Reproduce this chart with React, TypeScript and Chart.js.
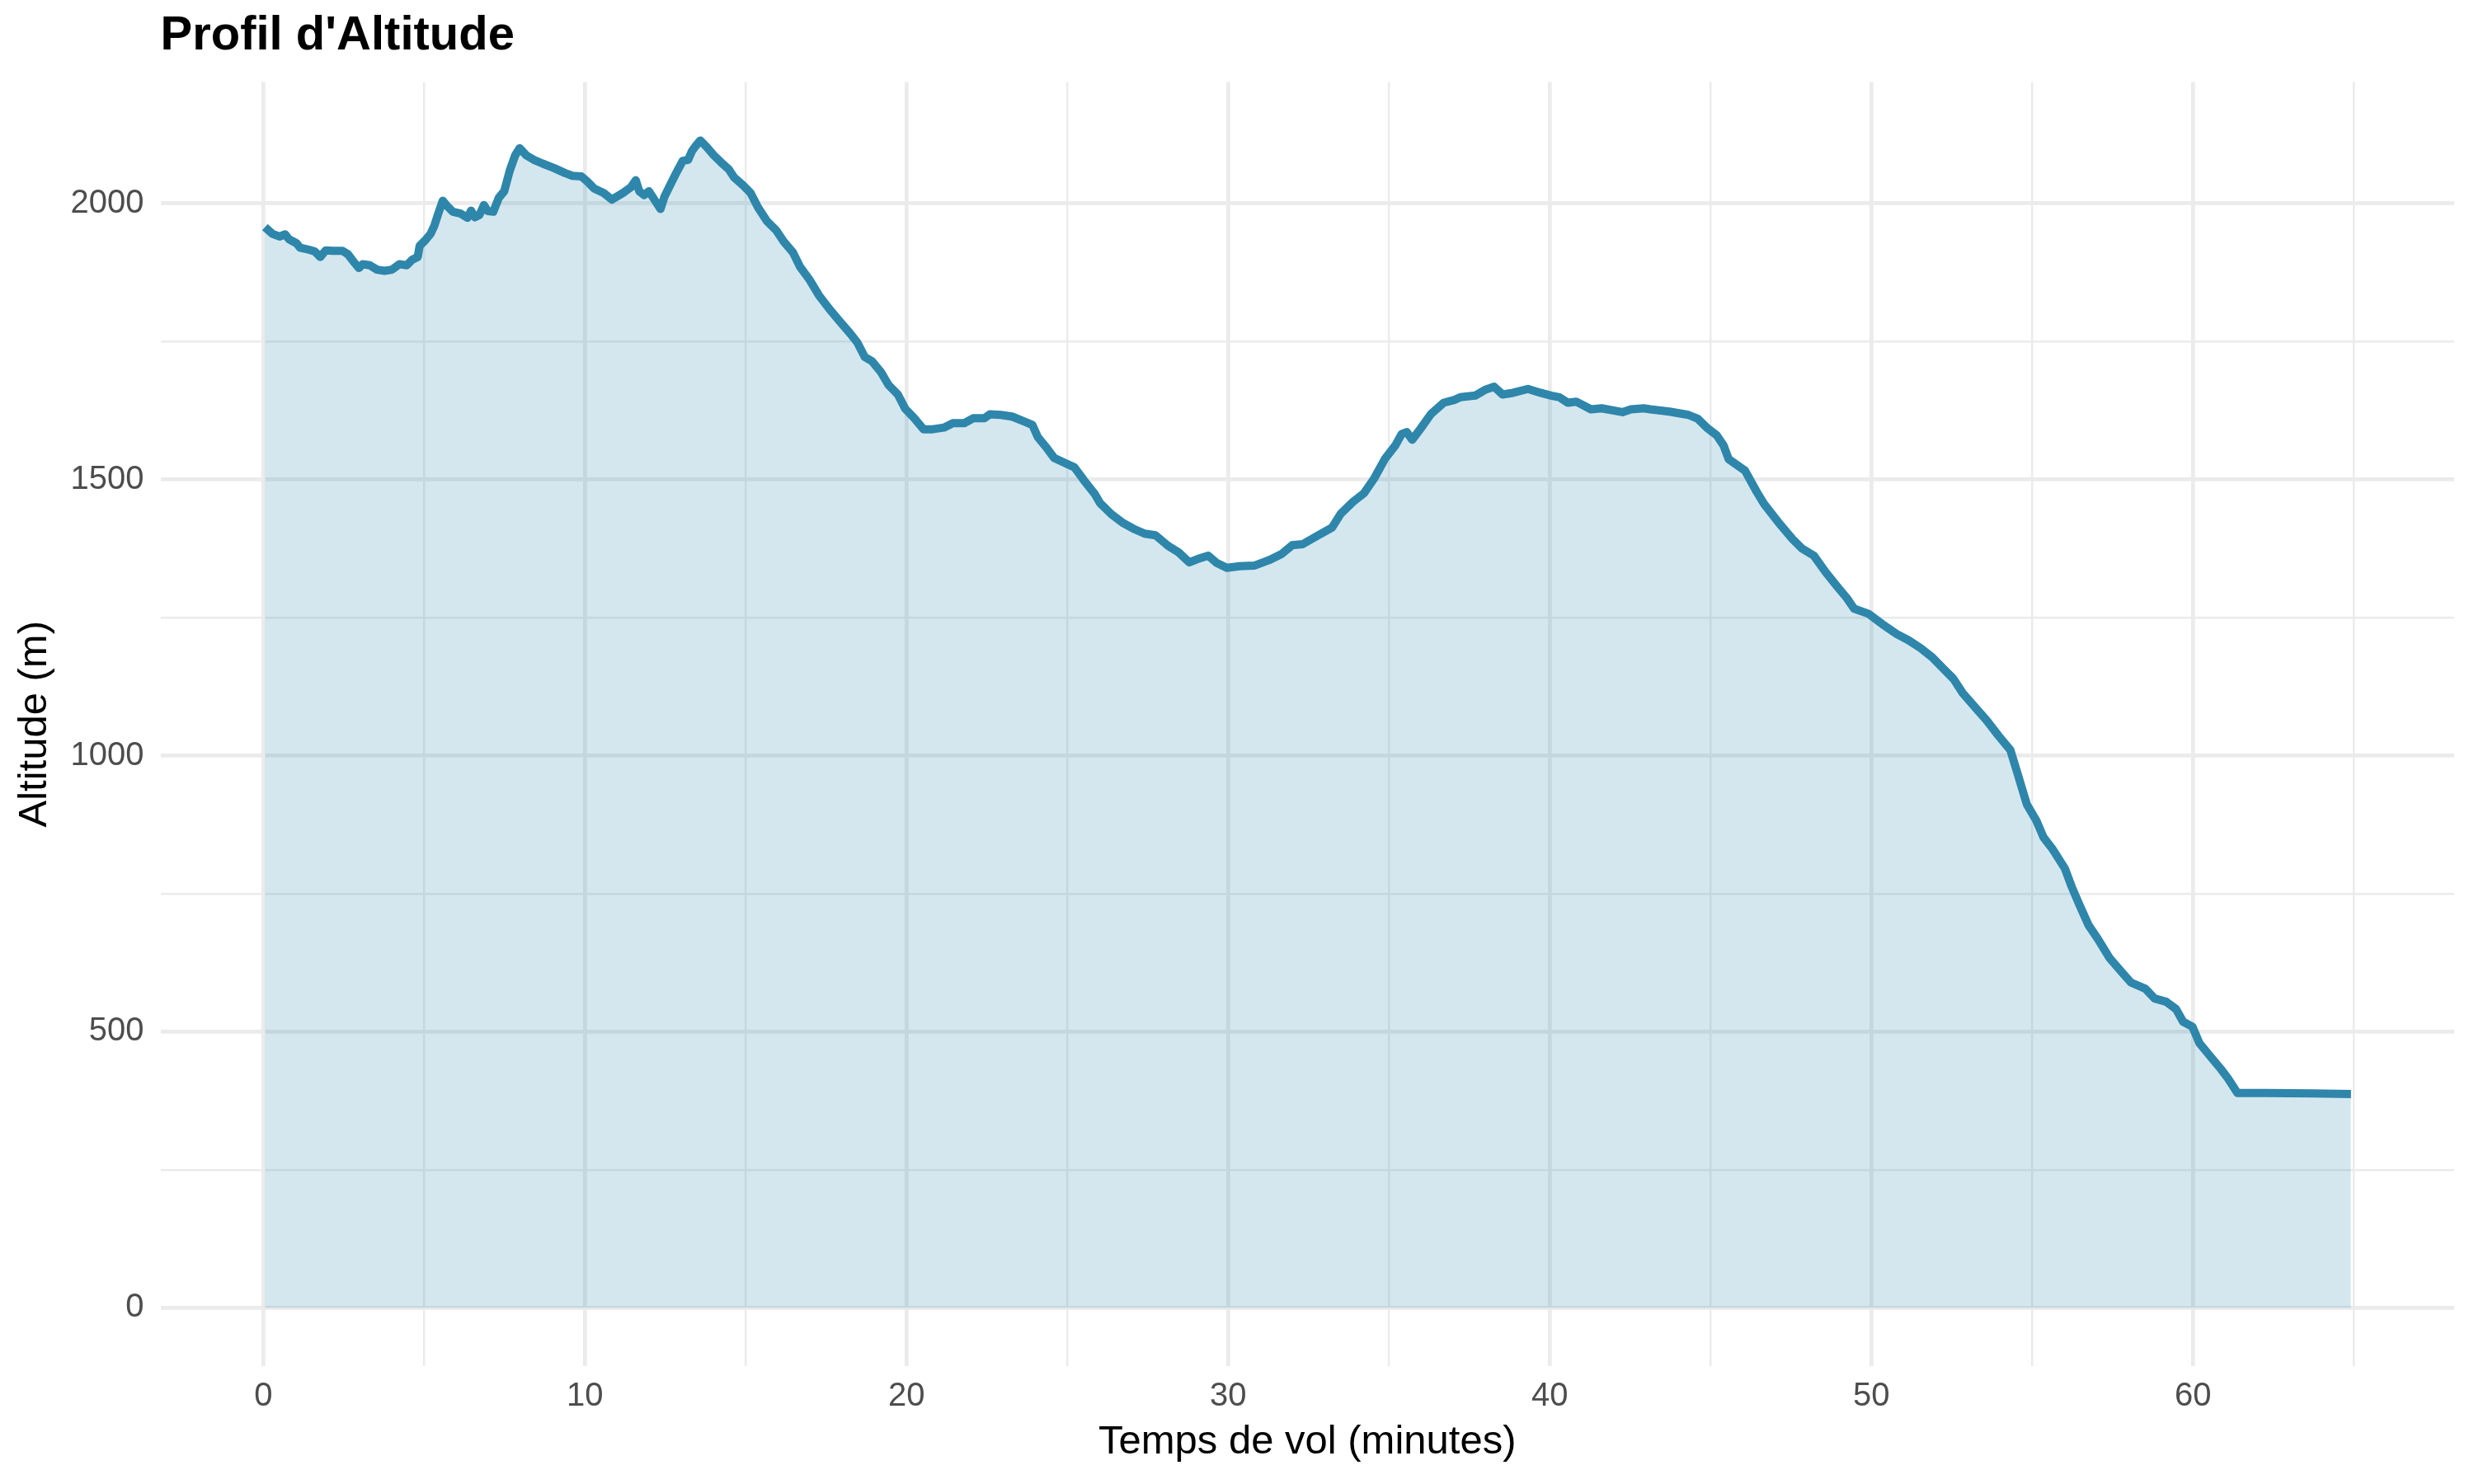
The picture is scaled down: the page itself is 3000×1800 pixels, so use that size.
import React, { useEffect, useRef } from "react";
import { Chart, registerables } from "chart.js";

Chart.register(...registerables);

// Flight time (minutes)
const timeMinutes: number[] = [
  0.05, 0.28, 0.51, 0.68, 0.8, 1.03, 1.14, 1.43, 1.6, 1.77, 1.94, 2.17, 2.46, 2.63, 2.8, 2.97,
  3.09, 3.31, 3.54, 3.77, 4.0, 4.23, 4.46, 4.63, 4.8, 4.86, 5.03, 5.2, 5.32, 5.43, 5.58, 5.72,
  5.89, 6.12, 6.35, 6.46, 6.58, 6.72, 6.86, 6.98, 7.15, 7.32, 7.49, 7.66, 7.83, 7.97, 8.18, 8.41,
  8.69, 9.04, 9.38, 9.61, 9.89, 10.07, 10.29, 10.58, 10.84, 10.98, 11.21, 11.44, 11.58, 11.69,
  11.84, 11.99, 12.18, 12.35, 12.47, 12.64, 12.81, 13.04, 13.21, 13.33, 13.44, 13.59, 13.79,
  14.01, 14.24, 14.47, 14.64, 14.93, 15.15, 15.38, 15.66, 15.95, 16.18, 16.47, 16.69, 16.98,
  17.27, 17.61, 17.9, 18.24, 18.47, 18.7, 18.93, 19.21, 19.44, 19.73, 19.96, 20.24, 20.53,
  20.81, 21.16, 21.44, 21.79, 22.07, 22.42, 22.59, 22.93, 23.28, 23.62, 23.91, 24.08, 24.36,
  24.59, 24.88, 25.22, 25.51, 25.85, 26.02, 26.37, 26.71, 27.05, 27.4, 27.74, 28.13, 28.46,
  28.79, 29.05, 29.38, 29.64, 29.96, 30.36, 30.81, 31.27, 31.66, 31.99, 32.32, 32.71, 33.23,
  33.5, 33.89, 34.22, 34.54, 34.87, 35.2, 35.39, 35.55, 35.72, 35.98, 36.31, 36.7, 37.03,
  37.22, 37.68, 38.01, 38.27, 38.53, 38.86, 39.32, 39.71, 40.04, 40.3, 40.56, 40.82, 41.28,
  41.61, 42.26, 42.52, 42.92, 43.13, 43.72, 44.31, 44.6, 44.9, 45.19, 45.4, 45.56, 46.07,
  46.44, 46.66, 47.1, 47.55, 47.84, 48.21, 48.58, 48.94, 49.24, 49.46, 49.9, 50.34, 50.79,
  51.15, 51.52, 51.89, 52.26, 52.55, 52.84, 53.29, 53.58, 53.95, 54.32, 54.54, 54.83, 55.13,
  55.35, 55.64, 56.01, 56.23, 56.45, 56.75, 57.04, 57.41, 57.78, 58.07, 58.51, 58.81, 59.17,
  59.47, 59.69, 59.98, 60.2, 60.57, 60.87, 61.09, 61.38, 62.27, 63.74, 64.91,
];

// Altitude (m)
const altitudeM: number[] = [
  1957, 1945, 1940, 1944, 1935, 1928, 1920, 1916, 1913, 1903, 1915, 1914, 1914, 1908, 1895, 1883,
  1890, 1888, 1880, 1878, 1880, 1890, 1888, 1898, 1903, 1923, 1933, 1945, 1960, 1980, 2005, 1995,
  1985, 1982, 1974, 1987, 1975, 1979, 1997, 1986, 1985, 2010, 2022, 2059, 2087, 2100, 2087, 2079,
  2072, 2064, 2055, 2050, 2049, 2040, 2027, 2019, 2007, 2012, 2020, 2030, 2042, 2022,
  2015, 2022, 2005, 1990, 2012, 2032, 2052, 2077, 2079, 2095, 2104, 2114, 2102,
  2087, 2074, 2062, 2047, 2032, 2019, 1993, 1968, 1951, 1931, 1911, 1885, 1862,
  1834, 1808, 1788, 1765, 1748, 1722, 1714, 1694, 1671, 1654, 1628, 1611, 1591,
  1591, 1594, 1602, 1602, 1611, 1611, 1618, 1617, 1614, 1606, 1599, 1577, 1557,
  1539, 1531, 1522, 1499, 1474, 1457, 1437, 1422, 1411, 1402, 1399, 1380, 1368,
  1350, 1356, 1362, 1349, 1340, 1343, 1344, 1354, 1365, 1381, 1383, 1396, 1413,
  1438, 1460, 1475, 1502, 1537, 1562, 1582, 1586, 1572, 1592, 1619, 1639, 1644,
  1649, 1652, 1663, 1668, 1654, 1657, 1664, 1657, 1652, 1649, 1639, 1641, 1627,
  1629, 1622, 1627, 1629, 1627, 1623, 1617, 1610, 1593, 1580, 1562, 1537, 1516,
  1477, 1456, 1423, 1392, 1375, 1362, 1332, 1306, 1285, 1266, 1257, 1238, 1220,
  1209, 1195, 1178, 1156, 1139, 1113, 1083, 1064, 1036, 1010, 968, 912, 882,
  852, 830, 796, 762, 732, 693, 668, 633, 608, 589, 578, 560, 554,
  541, 518, 509, 479, 453, 432, 415, 389, 389, 388, 387,
];

// Grid / tick values
const xGridValues: number[] = [0, 5, 10, 15, 20, 25, 30, 35, 40, 45, 50, 55, 60, 65];
const xLabelValues: number[] = [0, 10, 20, 30, 40, 50, 60];
const yGridValues: number[] = [0, 250, 500, 750, 1000, 1250, 1500, 1750, 2000];
const yLabelValues: number[] = [0, 500, 1000, 1500, 2000];

const chartTitle = "Profil d'Altitude";
const xAxisTitle = "Temps de vol (minutes)";
const yAxisTitle = "Altitude (m)";

const LINE_COLOR = "#2E86AB";
const FILL_COLOR = "rgba(46,134,171,0.2)";
const GRID_COLOR = "#EBEBEB";
const FONT = "'Liberation Sans', Arial, Helvetica, sans-serif";

export default function App() {
  const canvasRef = useRef<HTMLCanvasElement | null>(null);

  useEffect(() => {
    const canvas = canvasRef.current;
    if (!canvas) return;
    const points = timeMinutes.map((t, i) => ({ x: t, y: altitudeM[i] }));

    const chart = new Chart(canvas, {
      type: "line",
      data: {
        datasets: [
          {
            data: points,
            borderColor: LINE_COLOR,
            borderWidth: 10,
            backgroundColor: FILL_COLOR,
            fill: "origin",
            pointRadius: 0,
            pointHoverRadius: 0,
            tension: 0,
            borderJoinStyle: "round",
            borderCapStyle: "butt",
          },
        ],
      },
      options: {
        responsive: false,
        devicePixelRatio: 1,
        animation: false,
        events: [],
        layout: { padding: { top: 0, left: 0, right: 24, bottom: 0 } },
        plugins: {
          legend: { display: false },
          tooltip: { enabled: false },
          title: {
            display: true,
            text: chartTitle,
            align: "start",
            fullSize: false,
            color: "#000000",
            font: { family: FONT, size: 58, weight: "bold", lineHeight: 1.2 },
            padding: { top: 9, bottom: 21 },
          },
        },
        scales: {
          x: {
            type: "linear",
            min: -3.2,
            max: 68.12,
            afterBuildTicks: (axis: any) => {
              axis.ticks = xGridValues.map((v) => ({ value: v }));
            },
            afterFit: (axis: any) => {
              axis.height = 143;
            },
            ticks: {
              autoSkip: false,
              maxRotation: 0,
              padding: 13,
              color: "#4D4D4D",
              font: { family: FONT, size: 40, lineHeight: 1.2 },
              callback: (value: any) => (xLabelValues.includes(Number(value)) ? String(value) : ""),
            },
            grid: {
              color: GRID_COLOR,
              lineWidth: (ctx: any) =>
                ctx.tick && xLabelValues.includes(ctx.tick.value) ? 4.7 : 2.4,
              drawTicks: false,
            },
            border: { display: false },
            title: {
              display: true,
              text: xAxisTitle,
              color: "#000000",
              font: { family: FONT, size: 49, lineHeight: 1.2 },
              padding: { top: 0, bottom: 21 },
            },
          },
          y: {
            type: "linear",
            min: -105.7,
            max: 2219.7,
            afterBuildTicks: (axis: any) => {
              axis.ticks = yGridValues.map((v) => ({ value: v }));
            },
            afterFit: (axis: any) => {
              axis.width = 194.5;
            },
            ticks: {
              autoSkip: false,
              padding: 20,
              color: "#4D4D4D",
              font: { family: FONT, size: 40, lineHeight: 1.2 },
              callback: (value: any) => (yLabelValues.includes(Number(value)) ? String(value) : ""),
            },
            grid: {
              color: GRID_COLOR,
              lineWidth: (ctx: any) =>
                ctx.tick && yLabelValues.includes(ctx.tick.value) ? 4.7 : 2.4,
              drawTicks: false,
            },
            border: { display: false },
            title: {
              display: true,
              text: yAxisTitle,
              color: "#000000",
              font: { family: FONT, size: 49, lineHeight: 1.2 },
              padding: { top: 12.6, bottom: 0 },
            },
          },
        },
      },
    } as any);

    return () => {
      chart.destroy();
    };
  }, []);

  return (
    <div
      style={{
        position: "fixed",
        left: 0,
        top: 0,
        width: 3000,
        height: 1800,
        background: "#ffffff",
      }}
    >
      <canvas
        ref={canvasRef}
        width={3000}
        height={1800}
        style={{ width: 3000, height: 1800, display: "block" }}
      />
    </div>
  );
}
